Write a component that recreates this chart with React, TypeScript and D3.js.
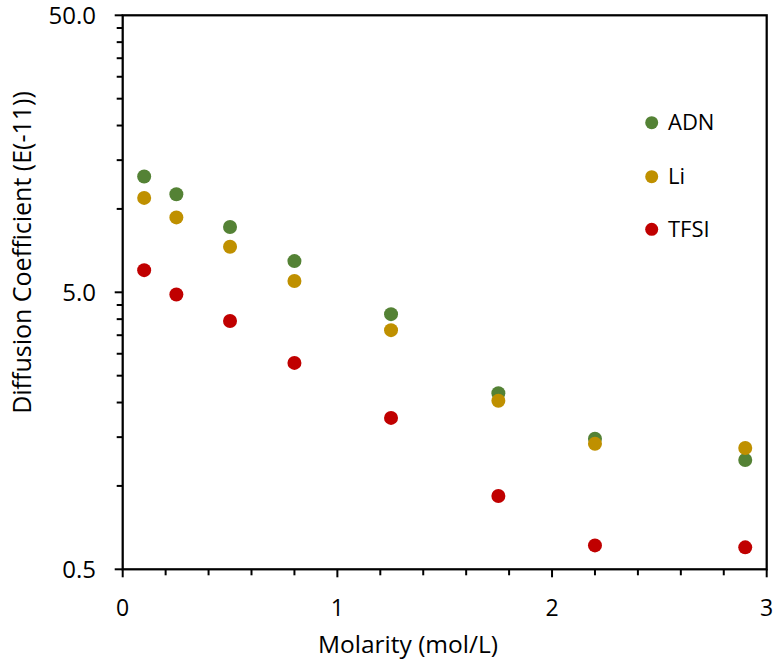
import React from "react";
import * as d3 from "d3";

const molarity = [0.1, 0.25, 0.5, 0.8, 1.25, 1.75, 2.2, 2.9];
const adnValues = [13.1, 11.3, 8.6, 6.48, 4.17, 2.16, 1.48, 1.24];
const liValues = [10.96, 9.32, 7.3, 5.49, 3.65, 2.03, 1.42, 1.37];
const tfsiValues = [6.01, 4.91, 3.94, 2.78, 1.76, 0.92, 0.61, 0.6];
const seriesNames = ["ADN", "Li", "TFSI"];
const seriesColors = ["#548235", "#BF9000", "#C00000"];
const yMajorTicks = [0.5, 5, 50];
const yMinorTicks = [1, 1.5, 2, 2.5, 3, 3.5, 4, 4.5, 10, 15, 20, 25, 30, 35, 40, 45];
const xMajorTicks = [0, 1, 2, 3];
const xMinorTicks = [0.2, 0.4, 0.6, 0.8, 1.2, 1.4, 1.6, 1.8, 2.2, 2.4, 2.6, 2.8];
const xTitle = "Molarity (mol/L)";
const yTitle = "Diffusion Coefficient (E(-11))";

const W = 779;
const H = 663;
const left = 122.7;
const right = 766.7;
const top = 15.3;
const bottom = 569.3;
const font = "'Open Sans', sans-serif";

export default function App() {
  const x = d3.scaleLinear().domain([0, 3]).range([left, right]);
  const y = d3.scaleLog().domain([0.5, 50]).range([bottom, top]);
  const series = [adnValues, liValues, tfsiValues];
  const fmt = d3.format(".1f");

  return (
    <svg width={W} height={H} style={{ position: "absolute", left: 0, top: 0, background: "#fff" }}>
      <rect x={0} y={0} width={W} height={H} fill="#fff" />
      {/* ticks */}
      {yMinorTicks.map((t) => (
        <line key={"ym" + t} x1={left - 6} x2={left} y1={y(t)} y2={y(t)} stroke="#000" strokeWidth={2} />
      ))}
      {yMajorTicks.map((t) => (
        <line key={"yM" + t} x1={left - 8} x2={left} y1={y(t)} y2={y(t)} stroke="#000" strokeWidth={2} />
      ))}
      {xMinorTicks.map((t) => (
        <line key={"xm" + t} x1={x(t)} x2={x(t)} y1={bottom} y2={bottom + 6} stroke="#000" strokeWidth={2} />
      ))}
      {xMajorTicks.map((t) => (
        <line key={"xM" + t} x1={x(t)} x2={x(t)} y1={bottom} y2={bottom + 8} stroke="#000" strokeWidth={2} />
      ))}
      {/* frame */}
      <rect x={left} y={top} width={right - left} height={bottom - top} fill="none" stroke="#000" strokeWidth={2.25} />
      {/* tick labels */}
      {yMajorTicks.map((t) => (
        <text key={"yl" + t} x={96} y={y(t) + 8.7} textAnchor="end" fontFamily={font} fontSize={24} fill="#000">
          {fmt(t)}
        </text>
      ))}
      {xMajorTicks.map((t) => (
        <text key={"xl" + t} x={x(t)} y={615.7} textAnchor="middle" fontFamily={font} fontSize={23} fill="#000">
          {String(t)}
        </text>
      ))}
      {/* axis titles */}
      <text x={408} y={653.3} textAnchor="middle" fontFamily={font} fontSize={24.5} fill="#000">
        {xTitle}
      </text>
      <text
        transform={`translate(30.5,252.5) rotate(-90)`}
        textAnchor="middle"
        fontFamily={font}
        fontSize={25}
        fill="#000"
      >
        {yTitle}
      </text>
      {/* points */}
      {series.map((vals, si) => (
        <g key={"s" + si}>
          {vals.map((v, i) => (
            <circle key={i} cx={x(molarity[i])} cy={y(v)} r={7} fill={seriesColors[si]} />
          ))}
        </g>
      ))}
      {/* legend */}
      {seriesNames.map((n, i) => {
        const ly = [122.7, 176.7, 229.3][i];
        return (
          <g key={"lg" + n}>
            <circle cx={651.7} cy={ly} r={6.5} fill={seriesColors[i]} />
            <text x={668} y={ly + 7.2} fontFamily={font} fontSize={22} fill="#000">
              {n}
            </text>
          </g>
        );
      })}
    </svg>
  );
}
